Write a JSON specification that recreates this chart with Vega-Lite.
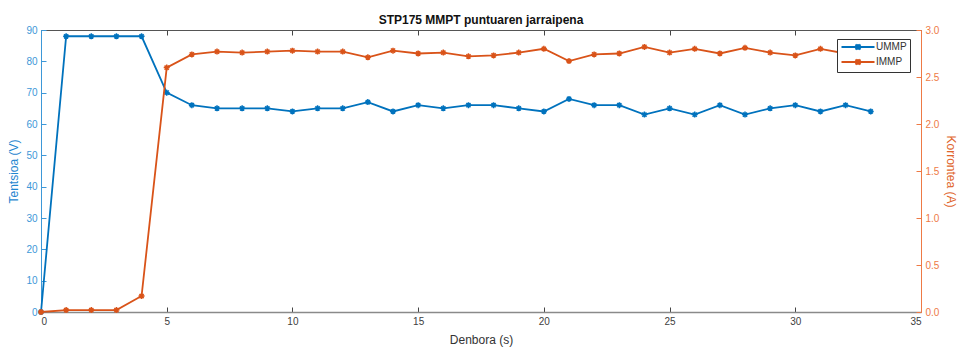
{
  "$schema": "https://vega.github.io/schema/vega-lite/v6.json",
  "width": 880,
  "height": 282,
  "autosize": {"type": "none"},
  "padding": {"left": 41, "top": 30, "right": 40, "bottom": 44},
  "background": "white",
  "config": {
    "font": "Liberation Sans",
    "view": {"stroke": null},
    "axis": {"grid": false, "labelFontSize": 10, "titleFontSize": 12, "titleFontWeight": "normal", "labelFont": "Liberation Sans", "titleFont": "Liberation Sans"}
  },
  "title": {
    "text": "STP175 MMPT puntuaren jarraipena",
    "fontSize": 12,
    "fontWeight": "bold",
    "color": "#111111",
    "anchor": "middle",
    "offset": 1,
    "dy": 3
  },
  "data": {
    "values": [
      {"t": 0, "U": 0, "I": 0},
      {"t": 1, "U": 88, "I": 0.02},
      {"t": 2, "U": 88, "I": 0.02},
      {"t": 3, "U": 88, "I": 0.02},
      {"t": 4, "U": 88, "I": 0.17},
      {"t": 5, "U": 70, "I": 2.6},
      {"t": 6, "U": 66, "I": 2.74},
      {"t": 7, "U": 65, "I": 2.77},
      {"t": 8, "U": 65, "I": 2.76},
      {"t": 9, "U": 65, "I": 2.77},
      {"t": 10, "U": 64, "I": 2.78},
      {"t": 11, "U": 65, "I": 2.77},
      {"t": 12, "U": 65, "I": 2.77},
      {"t": 13, "U": 67, "I": 2.71},
      {"t": 14, "U": 64, "I": 2.78},
      {"t": 15, "U": 66, "I": 2.75},
      {"t": 16, "U": 65, "I": 2.76},
      {"t": 17, "U": 66, "I": 2.72},
      {"t": 18, "U": 66, "I": 2.73},
      {"t": 19, "U": 65, "I": 2.76},
      {"t": 20, "U": 64, "I": 2.8},
      {"t": 21, "U": 68, "I": 2.67},
      {"t": 22, "U": 66, "I": 2.74},
      {"t": 23, "U": 66, "I": 2.75},
      {"t": 24, "U": 63, "I": 2.82},
      {"t": 25, "U": 65, "I": 2.76},
      {"t": 26, "U": 63, "I": 2.8},
      {"t": 27, "U": 66, "I": 2.75},
      {"t": 28, "U": 63, "I": 2.81},
      {"t": 29, "U": 65, "I": 2.76},
      {"t": 30, "U": 66, "I": 2.73},
      {"t": 31, "U": 64, "I": 2.8},
      {"t": 32, "U": 66, "I": 2.75},
      {"t": 33, "U": 64, "I": 2.75}
    ]
  },
  "layer": [
    {
      "encoding": {
        "x": {
          "field": "t", "type": "quantitative",
          "scale": {"domain": [0, 35], "nice": false, "zero": false},
          "axis": {
            "orient": "bottom", "title": "Denbora (s)", "values": [0, 5, 10, 15, 20, 25, 30, 35],
            "domainColor": "#8a8a8a", "domainWidth": 1.5,
            "tickColor": "#444444", "tickSize": -5, "labelPadding": 9,
            "labelColor": "#404040", "titleColor": "#333333", "titlePadding": 8
          }
        },
        "y": {
          "field": "U", "type": "quantitative",
          "scale": {"domain": [0, 90], "nice": false},
          "axis": {
            "orient": "left", "title": "Tentsioa (V)", "values": [0, 10, 20, 30, 40, 50, 60, 70, 80, 90],
            "domainColor": "#3d98d8", "tickColor": "#3d98d8", "tickSize": -5, "labelPadding": 9,
            "labelColor": "#3d98d8", "titleColor": "#1f86cf", "titlePadding": 5
          }
        },
        "color": {
          "datum": "UMMP", "type": "nominal",
          "scale": {"domain": ["UMMP", "IMMP"], "range": ["#0072BD", "#D95319"]},
          "legend": {
            "title": null,
            "orient": "none", "legendX": 796, "legendY": 9,
            "direction": "vertical",
            "fillColor": "white", "strokeColor": "#333333", "padding": 3,
            "symbolType": "M-6.6,0L6.6,0M-1,-1L1,1M-1,1L1,-1M0,-1.1L0,1.1",
            "symbolSize": 25, "symbolStrokeWidth": 2, "symbolOffset": 13,
            "labelOffset": 13, "labelFontSize": 10, "labelColor": "#333333",
            "rowPadding": 1
          }
        }
      },
      "layer": [
        {"mark": {"type": "line", "strokeWidth": 1.8}},
        {"mark": {"type": "point", "shape": "M-1,0L1,0M0,-1L0,1M-0.7,-0.7L0.7,0.7M-0.7,0.7L0.7,-0.7", "filled": false, "size": 36, "strokeWidth": 1.5, "opacity": 1}}
      ]
    },
    {
      "encoding": {
        "x": {
          "field": "t", "type": "quantitative",
          "axis": {
            "orient": "top", "title": null, "labels": false, "values": [0, 5, 10, 15, 20, 25, 30, 35],
            "domainColor": "#555555", "tickColor": "#444444", "tickSize": -5
          }
        },
        "y": {
          "field": "I", "type": "quantitative",
          "scale": {"domain": [0, 3], "nice": false},
          "axis": {
            "orient": "right", "title": "Korrontea (A)", "values": [0, 0.5, 1, 1.5, 2, 2.5, 3],
            "domainColor": "#ee7a45", "tickColor": "#ee7a45", "tickSize": -5, "labelPadding": 9,
            "labelColor": "#ee7a45", "titleColor": "#e0652c", "titlePadding": 5
          }
        },
        "color": {"datum": "IMMP", "type": "nominal"}
      },
      "layer": [
        {"mark": {"type": "line", "strokeWidth": 1.8}},
        {"mark": {"type": "point", "shape": "M-1,0L1,0M0,-1L0,1M-0.7,-0.7L0.7,0.7M-0.7,0.7L0.7,-0.7", "filled": false, "size": 36, "strokeWidth": 1.5, "opacity": 1}}
      ]
    }
  ],
  "resolve": {"scale": {"y": "independent"}, "axis": {"x": "independent"}}
}
